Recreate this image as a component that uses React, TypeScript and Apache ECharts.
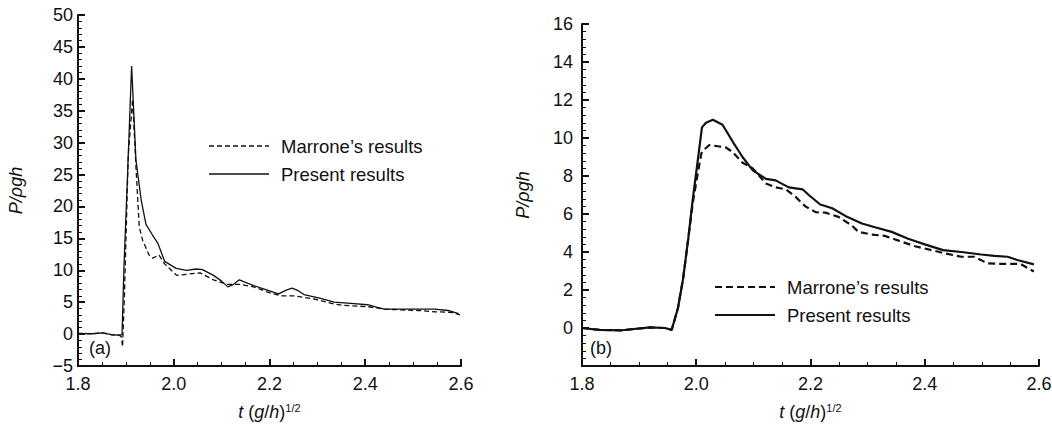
import React, { useEffect, useRef } from "react";
import * as echarts from "echarts";

// Panel (a)
const presentA_t = [1.8, 1.83, 1.851, 1.87, 1.886, 1.892, 1.896, 1.904, 1.912, 1.921, 1.932, 1.942, 1.955, 1.967, 1.981, 2.005, 2.027, 2.047, 2.06, 2.083, 2.1, 2.113, 2.125, 2.137, 2.15, 2.167, 2.195, 2.219, 2.235, 2.247, 2.26, 2.272, 2.307, 2.335, 2.37, 2.405, 2.425, 2.44, 2.475, 2.545, 2.573, 2.595];
const presentA_p = [0.1, 0.05, 0.2, -0.1, -0.15, -0.1, 10.5, 26, 42, 27.3, 21, 17.2, 15.6, 14.2, 11.4, 10.3, 10, 10.2, 10.1, 9.2, 8.3, 7.4, 7.8, 8.5, 8.1, 7.6, 6.9, 6.3, 6.9, 7.2, 6.8, 6.2, 5.6, 5.0, 4.8, 4.6, 4.2, 3.9, 3.9, 3.9, 3.7, 3.2];
const marroneA_t = [1.8, 1.83, 1.851, 1.87, 1.886, 1.891, 1.893, 1.897, 1.905, 1.914, 1.921, 1.928, 1.935, 1.949, 1.956, 1.969, 1.981, 1.995, 2.006, 2.055, 2.083, 2.111, 2.139, 2.167, 2.195, 2.223, 2.251, 2.293, 2.335, 2.356, 2.405, 2.44, 2.51, 2.545, 2.58, 2.598];
const marroneA_p = [0.1, 0.05, 0.2, -0.1, -0.15, -0.5, -2, 6, 28, 36.8, 26.3, 16.8, 14.7, 12.3, 11.9, 12.4, 11, 10, 9.2, 9.6, 8.5, 7.8, 7.8, 7.4, 6.6, 6.0, 6.0, 5.5, 4.7, 4.5, 4.3, 3.9, 3.7, 3.5, 3.4, 3.0];

// Panel (b)
const presentB_t = [1.8, 1.83, 1.87, 1.919, 1.945, 1.957, 1.968, 1.977, 1.986, 1.994, 2.003, 2.01, 2.017, 2.029, 2.046, 2.064, 2.081, 2.099, 2.122, 2.139, 2.162, 2.186, 2.197, 2.217, 2.238, 2.261, 2.29, 2.313, 2.342, 2.371, 2.4, 2.432, 2.464, 2.499, 2.522, 2.545, 2.562, 2.591];
const presentB_p = [0.0, -0.1, -0.12, 0.03, 0.0, -0.1, 1.05, 2.6, 4.7, 6.8, 8.9, 10.56, 10.8, 10.96, 10.7, 9.8, 9.0, 8.3, 7.85, 7.77, 7.4, 7.3, 7.0, 6.5, 6.3, 5.9, 5.5, 5.3, 5.06, 4.7, 4.4, 4.1, 4.0, 3.87, 3.8, 3.75, 3.58, 3.35];
const marroneB_t = [1.8, 1.83, 1.87, 1.919, 1.945, 1.957, 1.968, 1.977, 1.986, 1.994, 2.003, 2.009, 2.014, 2.023, 2.052, 2.064, 2.081, 2.099, 2.122, 2.139, 2.157, 2.174, 2.191, 2.209, 2.226, 2.249, 2.272, 2.284, 2.307, 2.33, 2.354, 2.383, 2.412, 2.435, 2.464, 2.487, 2.51, 2.539, 2.568, 2.591];
const marroneB_p = [0.0, -0.1, -0.12, 0.03, 0.0, -0.1, 1.05, 2.6, 4.7, 6.6, 8.2, 9.2, 9.4, 9.63, 9.5, 9.25, 8.7, 8.4, 7.6, 7.4, 7.3, 6.9, 6.4, 6.1, 6.07, 5.85, 5.4, 5.06, 4.92, 4.85, 4.6, 4.3, 4.1, 3.93, 3.75, 3.75, 3.4, 3.37, 3.37, 2.97];

const seriesNames = ["Marrone\u2019s results", "Present results"];
const panelLabels = ["(a)", "(b)"];
const xName = "{i|t} ({i|g}/{i|h}){s|1/2}";
const yName = "P/\u03c1gh";

const zip = (t: number[], p: number[]) => t.map((v, i) => [v, p[i]]);

const FONT = "'Liberation Sans', Arial, Helvetica, sans-serif";
const INK = "#111";

function xAxisCfg() {
  return {
    type: "value",
    min: 1.8,
    max: 2.6,
    interval: 0.2,
    name: xName,
    nameLocation: "middle",
    nameGap: 36,
    nameTextStyle: {
      color: INK,
      fontFamily: FONT,
      fontSize: 18,
      rich: {
        i: { fontStyle: "italic", fontSize: 18, fontFamily: FONT, color: INK, lineHeight: 20 },
        s: { fontSize: 11, fontFamily: FONT, color: INK, verticalAlign: "top", lineHeight: 12 },
      },
    },
    axisLine: { show: true, onZero: false, lineStyle: { color: INK, width: 2 } },
    axisTick: { show: true, inside: true, length: 7, lineStyle: { color: INK, width: 2 } },
    minorTick: { show: true, splitNumber: 4, length: 4, lineStyle: { color: INK, width: 1 } },
    splitLine: { show: false },
    axisLabel: {
      color: INK,
      fontFamily: FONT,
      fontSize: 18,
      margin: 9,
      formatter: (v: number) => v.toFixed(1),
    },
  };
}

function yAxisCfg(min: number, max: number, interval: number, gap: number, labelMargin: number, hideMin: boolean) {
  return {
    type: "value",
    min,
    max,
    interval,
    name: yName,
    nameLocation: "middle",
    nameGap: gap,
    nameTextStyle: { color: INK, fontFamily: FONT, fontSize: 18, fontStyle: "italic" },
    axisLine: { show: true, onZero: false, lineStyle: { color: INK, width: 2 } },
    axisTick: { show: true, inside: true, length: 7, lineStyle: { color: INK, width: 2 } },
    minorTick: { show: true, splitNumber: 5, length: 4, lineStyle: { color: INK, width: 1 } },
    splitLine: { show: false },
    axisLabel: {
      color: INK,
      fontFamily: FONT,
      fontSize: 18,
      margin: labelMargin,
      hideOverlap: false,
      formatter: (v: number) => (hideMin && v === min ? "" : String(v).replace("-", "\u2212")),
    },
  };
}

function lineSeries(name: string, data: number[][], width: number, dash: number[] | null) {
  return {
    type: "line",
    name,
    data,
    showSymbol: false,
    symbol: "none",
    smooth: false,
    lineStyle: { color: INK, width, type: dash ? dash : "solid" },
    z: dash ? 3 : 2,
  };
}

function legendGraphic(x: number, y: number, width: number, dash: number[]) {
  const els: any[] = [];
  seriesNames.forEach((name, i) => {
    const cy = y + i * 28;
    els.push({
      type: "line",
      shape: { x1: x, y1: cy, x2: x + 60, y2: cy },
      style: { stroke: INK, lineWidth: width, lineDash: i === 0 ? dash : null },
    });
    els.push({
      type: "text",
      x: x + 72,
      y: cy,
      style: { text: name, fill: INK, fontFamily: FONT, fontSize: 18.5, verticalAlign: "middle", align: "left" },
    });
  });
  return els;
}

function panelOption(opts: {
  left: number; top: number; width: number; height: number;
  yMin: number; yMax: number; yInt: number; nameGap: number; labelMargin: number; hideMin: boolean;
  marrone: number[][]; present: number[][]; lw: number; dash: number[];
  legendX: number; legendY: number; label: string; labelX: number;
}) {
  return {
    animation: false,
    backgroundColor: "#fff",
    grid: {
      left: opts.left, top: opts.top, width: opts.width, height: opts.height,
      containLabel: false, outerBoundsMode: "none",
    },
    xAxis: xAxisCfg(),
    yAxis: yAxisCfg(opts.yMin, opts.yMax, opts.yInt, opts.nameGap, opts.labelMargin, opts.hideMin),
    series: [
      lineSeries(seriesNames[0], opts.marrone, opts.lw, opts.dash),
      lineSeries(seriesNames[1], opts.present, opts.lw, null),
    ],
    graphic: [
      ...legendGraphic(opts.legendX, opts.legendY, Math.min(opts.lw, 2), opts.dash),
      {
        type: "text",
        x: opts.labelX,
        y: 348,
        style: { text: opts.label, fill: INK, fontFamily: FONT, fontSize: 18, verticalAlign: "middle" },
      },
    ],
  };
}

const OFFSET_B = 500;

export default function App() {
  const refA = useRef<HTMLDivElement>(null);
  const refB = useRef<HTMLDivElement>(null);
  useEffect(() => {
    if (!refA.current || !refB.current) return;
    const chartA = echarts.init(refA.current, undefined, { renderer: "svg" });
    const chartB = echarts.init(refB.current, undefined, { renderer: "svg" });
    chartA.setOption(
      panelOption({
        left: 78, top: 15, width: 383, height: 351,
        yMin: -5, yMax: 50, yInt: 5, nameGap: 53, labelMargin: 5, hideMin: false,
        marrone: zip(marroneA_t, marroneA_p), present: zip(presentA_t, presentA_p),
        lw: 1.3, dash: [5, 3], legendX: 209, legendY: 146, label: panelLabels[0], labelX: 89,
      })
    );
    chartB.setOption(
      panelOption({
        left: 582 - OFFSET_B, top: 24, width: 457, height: 342,
        yMin: -2, yMax: 16, yInt: 2, nameGap: 50, labelMargin: 9, hideMin: true,
        marrone: zip(marroneB_t, marroneB_p), present: zip(presentB_t, presentB_p),
        lw: 2.2, dash: [7, 4], legendX: 715 - OFFSET_B, legendY: 287, label: panelLabels[1], labelX: 590 - OFFSET_B,
      })
    );
    return () => {
      chartA.dispose();
      chartB.dispose();
    };
  }, []);
  return (
    <div style={{ position: "absolute", left: 0, top: 0, width: 1052, height: 434, background: "#fff", overflow: "hidden" }}>
      <div ref={refA} style={{ position: "absolute", left: 0, top: 0, width: OFFSET_B, height: 434 }} />
      <div ref={refB} style={{ position: "absolute", left: OFFSET_B, top: 0, width: 1052 - OFFSET_B, height: 434 }} />
    </div>
  );
}
